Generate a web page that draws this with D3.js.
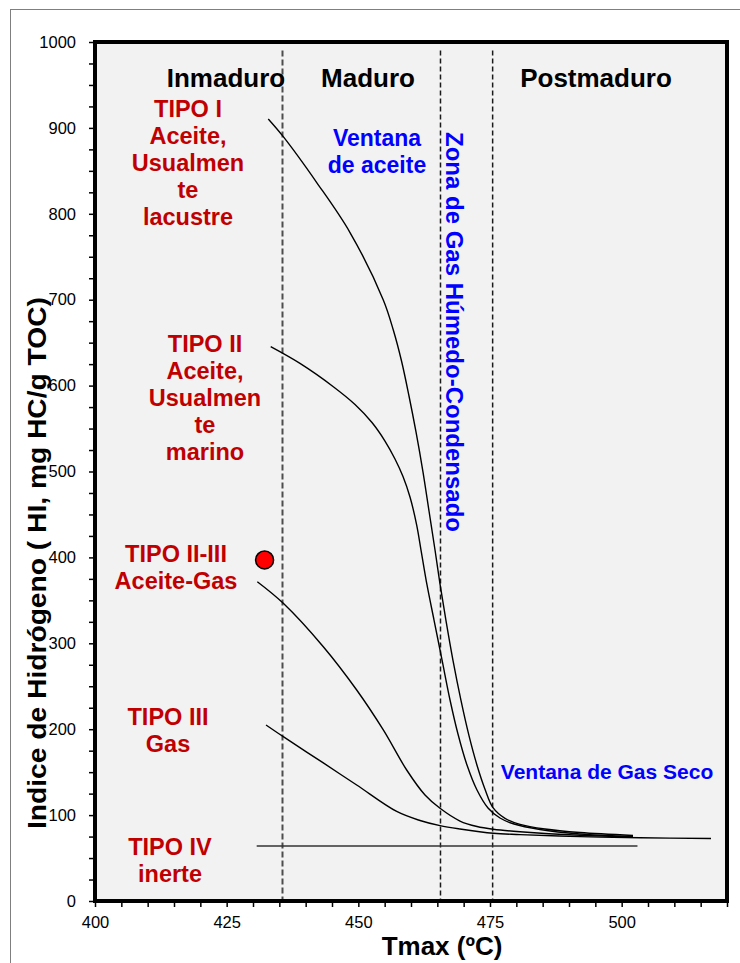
<!DOCTYPE html>
<html>
<head>
<meta charset="utf-8">
<script src="https://cdn.jsdelivr.net/npm/d3@7"></script>
<style>
  html, body { margin: 0; padding: 0; background: #ffffff; }
  svg { display: block; }
  text { font-family: Arial, "Liberation Sans", sans-serif; }
</style>
</head>
<body>
<svg id="chart" width="740" height="963"></svg>
<script>
// Kerogen type evolution curves: Tmax (°C) vs Hydrogen Index (mg HC/g TOC)
const tipoI_T   = [432.9, 435.75, 442.1, 448.42, 454.74, 456.64, 458.2, 459.62, 460.95, 462.28, 463.42, 464.56, 465.51, 466.65, 467.97, 469.49, 471.01, 472.53, 474.05, 475.57, 477.85, 480.7, 485.44, 492.09, 502.15];
const tipoI_HI  = [910.4, 889.8, 836.4, 778.2, 699.7, 664.7, 628.6, 587.9, 546.0, 499.4, 454.0, 408.6, 369.0, 326.0, 280.1, 233.5, 192.5, 158.1, 130.2, 108.7, 96.2, 89.2, 83.8, 79.7, 76.3];

const tipoII_T  = [433.36, 438.92, 445.25, 449.37, 452.59, 455.06, 456.96, 458.48, 459.81, 461.08, 461.9, 463.04, 464.37, 465.89, 467.41, 468.92, 470.63, 472.53, 474.62, 476.9, 479.56, 484.49, 492.09, 502.15];
const tipoII_HI = [645.3, 625.8, 598.7, 578.0, 557.0, 535.5, 514.6, 494.2, 470.3, 437.7, 408.6, 367.9, 327.1, 280.6, 234.0, 194.4, 158.3, 129.2, 108.3, 96.6, 89.6, 83.2, 78.0, 75.1];

const tipoIIIII_T  = [430.82, 435.75, 443.35, 449.69, 454.74, 459.18, 462.66, 465.51, 469.3, 472.53, 475.63, 480.7, 492.09, 502.15];
const tipoIIIII_HI = [371.7, 346.6, 296.0, 245.6, 199.1, 152.5, 123.4, 107.9, 93.1, 86.7, 83.5, 80.6, 76.5, 74.7];

const tipoIII_T  = [432.47, 435.75, 443.35, 449.69, 457.28, 461.71, 465.51, 469.3, 475.63, 480.7, 492.09, 503.48, 516.96];
const tipoIII_HI = [204.9, 191.3, 160.7, 135.0, 104.2, 93.7, 87.7, 83.8, 78.8, 77.3, 74.9, 73.6, 72.8];

const tipoIV_T  = [430.7, 503.0];
const tipoIV_HI = [64, 64];

// Sample point
const sample_T  = [432.2];
const sample_HI = [397];

// Maturity boundaries (Tmax)
const limits = [435.6, 465.6, 475.5];

// Axis ticks
const xTicks = d3.range(400, 521, 5);
const xLabels = [400, 425, 450, 475, 500];
const yTicks = d3.range(0, 1001, 25);
const yLabels = [0, 100, 200, 300, 400, 500, 600, 700, 800, 900, 1000];

const svg = d3.select("#chart");
const plotLeft = 95, plotRight = 727, plotTop = 42, plotBottom = 901;

const x = d3.scaleLinear().domain([400, 520]).range([plotLeft, plotRight]);
const y = d3.scaleLinear().domain([0, 1000]).range([plotBottom, plotTop]);

// Outer chart frame
svg.append("rect")
  .attr("x", 10.5).attr("y", 9.5).attr("width", 800).attr("height", 1000)
  .attr("fill", "#ffffff").attr("stroke", "#7f7f7f").attr("stroke-width", 1);

// Plot background
svg.append("rect")
  .attr("x", plotLeft).attr("y", plotTop)
  .attr("width", plotRight - plotLeft).attr("height", plotBottom - plotTop)
  .attr("fill", "#f2f2f2");

// Axes
const xAxis = d3.axisBottom(x)
  .tickValues(xTicks)
  .tickFormat(d => xLabels.includes(d) ? d : "")
  .tickSize(6).tickSizeOuter(0).tickPadding(9);
const gx = svg.append("g").attr("transform", `translate(0,${plotBottom})`).call(xAxis);

const yAxis = d3.axisLeft(y)
  .tickValues(yTicks)
  .tickFormat(d => yLabels.includes(d) ? d : "")
  .tickSize(6).tickSizeOuter(0).tickPadding(13);
const gy = svg.append("g").attr("transform", `translate(${plotLeft},0)`).call(yAxis);

[gx, gy].forEach(g => {
  g.select(".domain").remove();
  g.selectAll(".tick line").attr("stroke", "#000").attr("stroke-width", 1.5);
  g.selectAll(".tick text").attr("fill", "#000").style("font-size", "16.5px")
    .style("font-family", "Arial, 'Liberation Sans', sans-serif");
});

// Maturity boundary lines
svg.selectAll("line.limit")
  .data(limits)
  .join("line")
  .attr("class", "limit")
  .attr("x1", d => x(d)).attr("x2", d => x(d))
  .attr("y1", y(990)).attr("y2", plotBottom)
  .attr("stroke", (d, i) => i === 0 ? "#4d4d4d" : "#1a1a1a")
  .attr("stroke-width", (d, i) => i === 0 ? 2 : 1.5)
  .attr("stroke-dasharray", (d, i) => i === 0 ? "6,3" : "5,3");

// Evolution curves
const line = d3.line().x(d => x(d[0])).y(d => y(d[1])).curve(d3.curveCatmullRom.alpha(0.5));
const curves = [
  [tipoI_T, tipoI_HI],
  [tipoII_T, tipoII_HI],
  [tipoIIIII_T, tipoIIIII_HI],
  [tipoIII_T, tipoIII_HI]
].map(([t, h]) => d3.zip(t, h));

svg.selectAll("path.curve")
  .data(curves)
  .join("path")
  .attr("class", "curve")
  .attr("d", line)
  .attr("fill", "none")
  .attr("stroke", "#000")
  .attr("stroke-width", 1.4);

svg.append("path")
  .attr("d", d3.line().x(d => x(d[0])).y(d => y(d[1]))(d3.zip(tipoIV_T, tipoIV_HI)))
  .attr("fill", "none").attr("stroke", "#333").attr("stroke-width", 1.4);

// Sample
svg.selectAll("circle.sample")
  .data(d3.zip(sample_T, sample_HI))
  .join("circle")
  .attr("class", "sample")
  .attr("cx", d => x(d[0])).attr("cy", d => y(d[1])).attr("r", 9)
  .attr("fill", "#ff0000").attr("stroke", "#000").attr("stroke-width", 1.5);

// Plot border
svg.append("rect")
  .attr("x", plotLeft).attr("y", plotTop)
  .attr("width", plotRight - plotLeft).attr("height", plotBottom - plotTop)
  .attr("fill", "none").attr("stroke", "#000").attr("stroke-width", 4);

// Maturity zone headings
const zones = [
  { t: "Inmaduro", x: 226, y: 87 },
  { t: "Maduro", x: 368, y: 87 },
  { t: "Postmaduro", x: 596, y: 87 }
];
svg.selectAll("text.zone")
  .data(zones)
  .join("text")
  .attr("class", "zone")
  .attr("x", d => d.x).attr("y", d => d.y)
  .attr("text-anchor", "middle")
  .style("font-size", "26px").style("font-weight", "bold").attr("fill", "#000")
  .text(d => d.t);

// Kerogen type labels
const typeLabels = [
  { lines: ["TIPO I", "Aceite,", "Usualmen", "te", "lacustre"], x: 188, y: 117 },
  { lines: ["TIPO II", "Aceite,", "Usualmen", "te", "marino"], x: 205, y: 352 },
  { lines: ["TIPO II-III", "Aceite-Gas"], x: 176, y: 562 },
  { lines: ["TIPO III", "Gas"], x: 168, y: 725 },
  { lines: ["TIPO IV", "inerte"], x: 170, y: 855 }
];
typeLabels.forEach(lbl => {
  const t = svg.append("text")
    .attr("x", lbl.x).attr("y", lbl.y)
    .attr("text-anchor", "middle")
    .style("font-size", "23.5px").style("font-weight", "bold")
    .attr("fill", "#c00000");
  lbl.lines.forEach((s, i) => {
    t.append("tspan").attr("x", lbl.x).attr("dy", i === 0 ? 0 : 27).text(s);
  });
});

// Window labels
const oil = svg.append("text")
  .attr("x", 377).attr("y", 146)
  .attr("text-anchor", "middle")
  .style("font-size", "23px").style("font-weight", "bold").attr("fill", "#0000ff");
oil.append("tspan").attr("x", 377).attr("dy", 0).text("Ventana");
oil.append("tspan").attr("x", 377).attr("dy", 27).text("de aceite");

svg.append("text")
  .attr("transform", "translate(446,332) rotate(90)")
  .attr("text-anchor", "middle")
  .style("font-size", "24px").style("font-weight", "bold").attr("fill", "#0000ff")
  .text("Zona de Gas Húmedo-Condensado");

svg.append("text")
  .attr("x", 607).attr("y", 779)
  .attr("text-anchor", "middle")
  .style("font-size", "21px").style("font-weight", "bold").attr("fill", "#0000ff")
  .text("Ventana de Gas Seco");

// Axis titles
svg.append("text")
  .attr("x", 442).attr("y", 955)
  .attr("text-anchor", "middle")
  .style("font-size", "26px").style("font-weight", "bold").attr("fill", "#000")
  .text("Tmax (ºC)");

svg.append("text")
  .attr("transform", "translate(46,563) rotate(-90)")
  .attr("text-anchor", "middle")
  .style("font-size", "25px").style("font-weight", "bold").attr("fill", "#000")
  .attr("textLength", 532).attr("lengthAdjust", "spacingAndGlyphs")
  .text("Indice de Hidrógeno ( HI, mg HC/g TOC)");
</script>
</body>
</html>
